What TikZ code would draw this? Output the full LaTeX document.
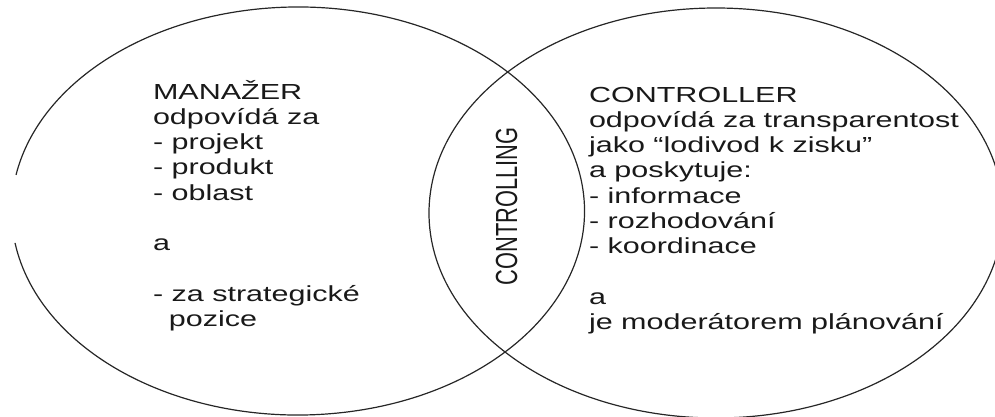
\documentclass[tikz,border=0pt]{standalone}
\usepackage{fontspec}
\setmainfont{Liberation Sans}
\usepackage{graphicx}
\begin{document}
\begin{tikzpicture}[x=1pt,y=1pt,
  ring/.style={line width=1.2pt, draw=black!85},
  txt/.style={inner sep=0pt, outer sep=0pt, text=black!90,
    font=\fontsize{21.8}{25.3}\selectfont}]
\useasboundingbox (0,0) rectangle (995,416);
\clip (0,0) rectangle (995,416);
% left ellipse (with small gap on its left side)
\draw[ring] ([shift={(298,205)}] 189:286.5 and 204)
  arc[start angle=189, end angle=529.8, x radius=286.5, y radius=204];
% right ellipse
\draw[ring] (716,203) ellipse[x radius=287, y radius=205];
% texts
\node[txt, anchor=base west] (manazer) at (153,317)
  {\scalebox{1.4}[1]{\begin{tabular}[t]{@{}l@{}}
  MANAŽER\\
  odpovídá za\\
  - projekt\\
  - produkt\\
  - oblast\\
  ~\\
  a\\
  ~\\
  - za strategické\\
  \hspace{11.4pt}pozice
  \end{tabular}}};
\node[txt, anchor=base west] (controller) at (589,314)
  {\scalebox{1.4}[1]{\begin{tabular}[t]{@{}l@{}}
  CONTROLLER\\
  odpovídá za transparentost\\
  jako “lodivod k zisku"\\
  a poskytuje:\\
  - informace\\
  - rozhodování\\
  - koordinace\\
  ~\\
  a\\
  je moderátorem plánování
  \end{tabular}}};
\node[txt] (controlling) at (506.5,209.5)
  {\scalebox{1.4}[1]{\rotatebox{90}{CONTROLLING}}};
\end{tikzpicture}
\end{document}
